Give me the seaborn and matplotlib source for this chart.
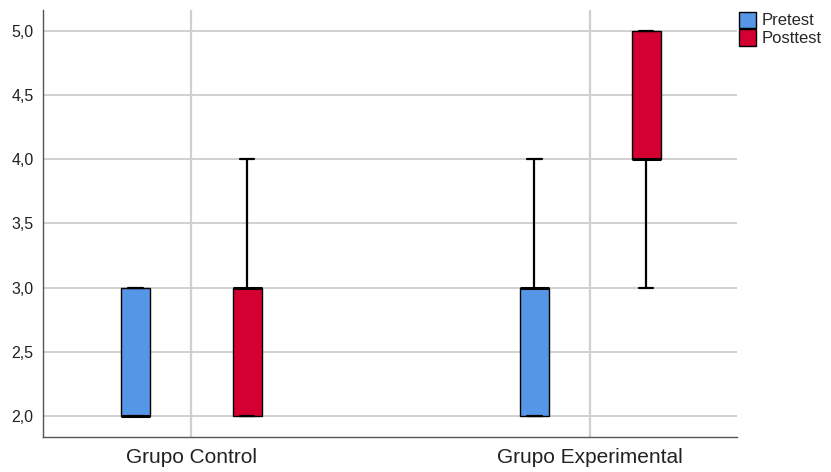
import pandas as pd
import matplotlib.pyplot as plt
import seaborn as sns

grupos = ["Grupo Control", "Grupo Experimental"]
momentos = ["Pretest", "Posttest"]
control_pre = [2, 2, 2, 2, 2, 3, 3, 3, 3]
control_post = [2, 2, 2, 3, 3, 3, 3, 3, 4]
exp_pre = [2, 2, 2, 3, 3, 3, 3, 3, 4]
exp_post = [3, 4, 4, 4, 4, 5, 5, 5, 5]
y_ticks = [2.0, 2.5, 3.0, 3.5, 4.0, 4.5, 5.0]

filas = []
for grupo, momento, valores in [
    (grupos[0], momentos[0], control_pre),
    (grupos[0], momentos[1], control_post),
    (grupos[1], momentos[0], exp_pre),
    (grupos[1], momentos[1], exp_post),
]:
    for v in valores:
        filas.append({"grupo": grupo, "momento": momento, "puntaje": v})
df = pd.DataFrame(filas)

sns.set_style("white")
plt.rcParams["font.family"] = ["Liberation Sans", "DejaVu Sans"]

fig = plt.figure(figsize=(8.31, 4.72), dpi=100)
ax = fig.add_axes([0.052, 0.074, 0.835, 0.905])

colores = {"Pretest": "#5596E6", "Posttest": "#D50032"}
sns.boxplot(data=df, x="grupo", y="puntaje", hue="momento", order=grupos,
            hue_order=momentos, palette=colores, width=0.56, gap=0.74,
            whis=1.5, fliersize=0, saturation=1, ax=ax,
            boxprops={"edgecolor": "black", "linewidth": 1.0},
            whiskerprops={"color": "black", "linewidth": 1.6},
            capprops={"color": "black", "linewidth": 1.6},
            medianprops={"color": "black", "linewidth": 2.2})

# Rejilla estilo SPSS
for y in y_ticks:
    ax.axhline(y, color="#c8c8c8", linewidth=1.2, zorder=0)
for x in range(len(grupos)):
    ax.axvline(x, color="#d0d0d0", linewidth=1.6, zorder=0)

ax.set_xlim(-0.371, 1.368)
ax.set_ylim(1.836, 5.164)
ax.set_yticks(y_ticks)
ax.set_yticklabels([f"{t:.1f}".replace(".", ",") for t in y_ticks], fontsize=11.5)
ax.tick_params(axis="x", labelsize=15, length=0, pad=8, labelcolor="#222222")
ax.tick_params(axis="y", length=0, pad=7, labelcolor="#222222")
ax.set_xlabel("")
ax.set_ylabel("")
for lado in ["top", "right"]:
    ax.spines[lado].set_visible(False)
for lado in ["left", "bottom"]:
    ax.spines[lado].set_color("#555555")
    ax.spines[lado].set_linewidth(1.0)

ax.legend(title=None, loc="upper left", bbox_to_anchor=(1.0, 1.0),
          frameon=False, fontsize=12, handlelength=1.05, handleheight=1.15,
          handletextpad=0.3, labelspacing=0.05, borderaxespad=0.0,
          borderpad=0.1)

plt.savefig("out.png", dpi=100)
